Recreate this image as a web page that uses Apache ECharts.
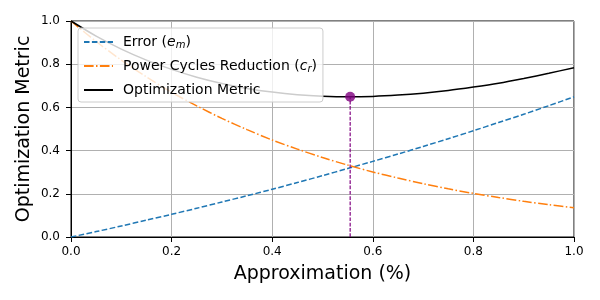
<!DOCTYPE html>
<html>
<head>
<meta charset="utf-8">
<script src="https://cdn.jsdelivr.net/npm/echarts@6/dist/echarts.min.js"></script>
<style>html,body{margin:0;padding:0;background:#fff;}#c{width:600px;height:300px;}</style>
</head>
<body>
<div id="c"></div>
<script>
const xs = [0, 0.05, 0.1, 0.15, 0.2, 0.25, 0.3, 0.35, 0.4, 0.45, 0.5, 0.55, 0.6, 0.65, 0.7, 0.75, 0.8, 0.85, 0.9, 0.95, 1.0];
const errorVals = [0, 0.025, 0.051, 0.078, 0.105, 0.133, 0.162, 0.191, 0.221, 0.252, 0.284, 0.317, 0.350, 0.384, 0.419, 0.455, 0.492, 0.530, 0.568, 0.608, 0.649];
const powerVals = [1.0, 0.905, 0.819, 0.741, 0.670, 0.607, 0.549, 0.497, 0.449, 0.407, 0.368, 0.333, 0.301, 0.273, 0.247, 0.223, 0.202, 0.183, 0.165, 0.150, 0.135];
const metricVals = [1.0, 0.930, 0.870, 0.819, 0.776, 0.740, 0.711, 0.688, 0.671, 0.659, 0.652, 0.649, 0.651, 0.657, 0.666, 0.678, 0.694, 0.712, 0.734, 0.758, 0.784];
const optX = 0.555;
const optY = 0.649;
const xTicks = [0, 0.2, 0.4, 0.6, 0.8, 1.0];
const yTicks = [0, 0.2, 0.4, 0.6, 0.8, 1.0];

const pair = (a) => xs.map((x, i) => [x, a[i]]);
const FONT = 'DejaVu Sans';
const chart = echarts.init(document.getElementById('c'), null, {renderer: 'canvas'});
chart.setOption({
  animation: false,
  backgroundColor: '#ffffff',
  grid: {left: 71, right: 26, top: 21, bottom: 63, show: true, borderColor: '#000', borderWidth: 1, backgroundColor: 'transparent'},
  xAxis: {
    type: 'value', min: 0, max: 1, interval: 0.2,
    name: 'Approximation (%)', nameLocation: 'middle', nameGap: 28, nameMoveOverlap: false,
    nameTextStyle: {fontFamily: FONT, fontSize: 19, color: '#000'},
    axisLine: {show: true, lineStyle: {color: '#000', width: 1}},
    axisTick: {show: true, inside: false, length: 5, lineStyle: {color: '#000'}},
    axisLabel: {fontFamily: FONT, fontSize: 12, color: '#000', margin: 9, formatter: v => v.toFixed(1)},
    splitLine: {show: true, lineStyle: {color: '#b0b0b0', width: 1}}
  },
  yAxis: {
    type: 'value', min: 0, max: 1, interval: 0.2,
    name: 'Optimization Metric', nameLocation: 'middle', nameGap: 37, nameMoveOverlap: false,
    nameTextStyle: {fontFamily: FONT, fontSize: 19, color: '#000'},
    axisLine: {show: true, lineStyle: {color: '#000', width: 1}},
    axisTick: {show: true, inside: false, length: 5, lineStyle: {color: '#000'}},
    axisLabel: {fontFamily: FONT, fontSize: 12, color: '#000', margin: 11, formatter: v => v.toFixed(1)},
    splitLine: {show: true, lineStyle: {color: '#b0b0b0', width: 1}}
  },
  legend: {
    orient: 'vertical', left: 78, top: 28,
    backgroundColor: 'rgba(255,255,255,0.8)', borderColor: '#cccccc', borderWidth: 1, borderRadius: 3,
    padding: [7, 6, 5, 5], itemGap: 9, itemWidth: 29, itemHeight: 14,
    itemStyle: {opacity: 0},
    data: ['Error', 'Power', 'Optimization Metric'],
    formatter: function (name) {
      if (name === 'Error') return '{g| }{n|Error (}{i|e}{s|m}{n|)}';
      if (name === 'Power') return '{g| }{n|Power Cycles Reduction (}{i|c}{s|r}{n|)}';
      return '{g| }{n|Optimization Metric}';
    },
    textStyle: {
      fontFamily: FONT, fontSize: 14, color: '#000',
      rich: {
        g: {width: 5, fontSize: 14},
        n: {fontFamily: FONT, fontSize: 14, color: '#000'},
        i: {fontFamily: FONT, fontSize: 14, fontStyle: 'italic', color: '#000'},
        s: {fontFamily: FONT, fontSize: 10, fontStyle: 'italic', color: '#000', verticalAlign: 'bottom', padding: [6, 0, 0, 0]}
      }
    }
  },
  series: [
    {name: 'Error', type: 'line', data: pair(errorVals), showSymbol: false, symbol: 'none', smooth: 0.3,
     lineStyle: {color: '#1f77b4', width: 1.5, type: [5.5, 2.4]}, itemStyle: {color: '#1f77b4'}, z: 2},
    {name: 'Power', type: 'line', data: pair(powerVals), showSymbol: false, symbol: 'none', smooth: 0.3,
     lineStyle: {color: '#ff7f0e', width: 1.5, type: [9.6, 2.4, 1.5, 2.4]}, itemStyle: {color: '#ff7f0e'}, z: 2},
    {name: 'Optimization Metric', type: 'line', data: pair(metricVals), showSymbol: false, symbol: 'none', smooth: 0.3,
     lineStyle: {color: '#000000', width: 1.5}, itemStyle: {color: '#000000'}, z: 2},
    {name: 'optLine', type: 'line', data: [[optX, 0], [optX, optY]], showSymbol: false, symbol: 'none',
     lineStyle: {color: '#800080', width: 1.2, type: [3.7, 1.6]}, z: 3},
    {name: 'optPoint', type: 'scatter', data: [[optX, optY]], symbolSize: 10,
     itemStyle: {color: '#800080'}, z: 4}
  ]
});
</script>
</body>
</html>
